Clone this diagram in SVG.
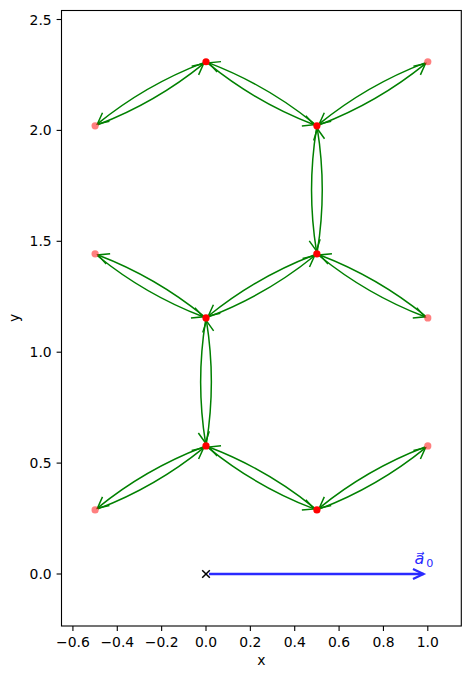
<svg xmlns="http://www.w3.org/2000/svg" width="471" height="679" viewBox="0 0 471 679">
<style>
.t{font-family:"DejaVu Sans","Liberation Sans",sans-serif;font-size:13.9px;fill:#000}
.tk{stroke:#000;stroke-width:1.1}
.c{fill:none;stroke:#008000;stroke-width:1.5;marker-end:url(#ah)}
.r{fill:#ff0000}
.f{fill:#ff0000;fill-opacity:0.5}
</style>
<defs>
<marker id="ah" markerUnits="userSpaceOnUse" markerWidth="30" markerHeight="30" refX="0" refY="0" orient="auto" overflow="visible">
<path d="M-11,-5.5 L0,0 L-11,5.5" fill="none" stroke="#008000" stroke-width="1.5"/>
</marker>
<marker id="bh" markerUnits="userSpaceOnUse" markerWidth="30" markerHeight="30" refX="0" refY="0" orient="auto" overflow="visible">
<path d="M-10.5,-5 L0,0 L-10.5,5" fill="none" stroke="#2a2aff" stroke-width="2.3"/>
</marker>
</defs>
<rect width="471" height="679" fill="#fff"/>
<g id="axes">
<rect x="61.5" y="10.5" width="399.8" height="615.5" fill="none" stroke="#000" stroke-width="1.1"/>
<g class="tk">
<line x1="72.92" y1="626" x2="72.92" y2="630.9"/>
<line x1="117.28" y1="626" x2="117.28" y2="630.9"/>
<line x1="161.64" y1="626" x2="161.64" y2="630.9"/>
<line x1="206" y1="626" x2="206" y2="630.9"/>
<line x1="250.36" y1="626" x2="250.36" y2="630.9"/>
<line x1="294.72" y1="626" x2="294.72" y2="630.9"/>
<line x1="339.08" y1="626" x2="339.08" y2="630.9"/>
<line x1="383.44" y1="626" x2="383.44" y2="630.9"/>
<line x1="427.8" y1="626" x2="427.8" y2="630.9"/>
<line x1="56.6" y1="574" x2="61.5" y2="574"/>
<line x1="56.6" y1="463.1" x2="61.5" y2="463.1"/>
<line x1="56.6" y1="352.2" x2="61.5" y2="352.2"/>
<line x1="56.6" y1="241.3" x2="61.5" y2="241.3"/>
<line x1="56.6" y1="130.4" x2="61.5" y2="130.4"/>
<line x1="56.6" y1="19.5" x2="61.5" y2="19.5"/>
</g>
<g class="t" text-anchor="middle">
<text x="72.92" y="647">−0.6</text>
<text x="117.28" y="647">−0.4</text>
<text x="161.64" y="647">−0.2</text>
<text x="206" y="647">0.0</text>
<text x="250.36" y="647">0.2</text>
<text x="294.72" y="647">0.4</text>
<text x="339.08" y="647">0.6</text>
<text x="383.44" y="647">0.8</text>
<text x="427.8" y="647">1.0</text>
<text x="261.4" y="665">x</text>
<text transform="translate(19,318) rotate(-90)">y</text>
</g>
<g class="t" text-anchor="end">
<text x="51.7" y="579">0.0</text>
<text x="51.7" y="468.1">0.5</text>
<text x="51.7" y="357.2">1.0</text>
<text x="51.7" y="246.3">1.5</text>
<text x="51.7" y="135.4">2.0</text>
<text x="51.7" y="24.5">2.5</text>
</g>
</g>
<g id="connectors">
<path class="c" d="M203.20,447.01 Q145.43,469.08 97.43,508.08"/>
<path class="c" d="M97.90,508.90 Q155.67,486.83 203.67,447.83"/>
<path class="c" d="M208.33,447.83 Q256.33,486.83 314.10,508.90"/>
<path class="c" d="M314.57,508.08 Q266.57,469.08 208.80,447.01"/>
<path class="c" d="M319.70,508.90 Q377.47,486.83 425.47,447.83"/>
<path class="c" d="M425.00,447.01 Q367.23,469.08 319.23,508.08"/>
<path class="c" d="M206.47,442.98 Q216.24,381.92 206.47,320.85"/>
<path class="c" d="M205.53,320.85 Q195.76,381.92 205.53,442.98"/>
<path class="c" d="M203.67,316.00 Q155.67,277.00 97.90,254.93"/>
<path class="c" d="M97.43,255.75 Q145.43,294.75 203.20,316.82"/>
<path class="c" d="M208.80,316.82 Q266.57,294.75 314.57,255.75"/>
<path class="c" d="M314.10,254.93 Q256.33,277.00 208.33,316.00"/>
<path class="c" d="M319.23,255.75 Q367.23,294.75 425.00,316.82"/>
<path class="c" d="M425.47,316.00 Q377.47,277.00 319.70,254.93"/>
<path class="c" d="M317.37,250.90 Q327.14,189.83 317.37,128.76"/>
<path class="c" d="M316.43,128.76 Q306.66,189.83 316.43,250.90"/>
<path class="c" d="M319.70,124.73 Q377.47,102.66 425.47,63.66"/>
<path class="c" d="M425.00,62.84 Q367.23,84.91 319.23,123.91"/>
<path class="c" d="M314.57,123.91 Q266.57,84.91 208.80,62.84"/>
<path class="c" d="M208.33,63.66 Q256.33,102.66 314.10,124.73"/>
<path class="c" d="M203.20,62.84 Q145.43,84.91 97.43,123.91"/>
<path class="c" d="M97.90,124.73 Q155.67,102.66 203.67,63.66"/>
<path d="M209,574 L423.5,574" fill="none" stroke="#2a2aff" stroke-width="2.3" marker-end="url(#bh)"/>
</g>
<g id="faded-sites">
<circle id="f1" class="f" cx="95.1" cy="509.97" r="3.6"/>
<circle id="f2" class="f" cx="427.8" cy="445.94" r="3.6"/>
<circle id="f3" class="f" cx="95.1" cy="253.86" r="3.6"/>
<circle id="f4" class="f" cx="427.8" cy="317.89" r="3.6"/>
<circle id="f5" class="f" cx="95.1" cy="125.8" r="3.6"/>
<circle id="f6" class="f" cx="427.8" cy="61.77" r="3.6"/>
</g>
<g id="sites">
<circle id="r1" class="r" cx="206" cy="445.94" r="3.6"/>
<circle id="r2" class="r" cx="316.9" cy="509.97" r="3.6"/>
<circle id="r3" class="r" cx="206" cy="317.89" r="3.6"/>
<circle id="r4" class="r" cx="316.9" cy="253.86" r="3.6"/>
<circle id="r5" class="r" cx="206" cy="61.77" r="3.6"/>
<circle id="r6" class="r" cx="316.9" cy="125.8" r="3.6"/>
</g>
<g id="origin">
<path d="M202.2,570.2 L209.8,577.8 M202.2,577.8 L209.8,570.2" stroke="#000" stroke-width="1.5"/>
</g>
<g id="label-a0" fill="#2a2aff" font-family="DejaVu Sans, sans-serif">
<text x="414.5" y="564" font-size="16" font-style="italic">a⃗</text>
<text x="426.3" y="567" font-size="11.2">0</text>
</g>
</svg>
